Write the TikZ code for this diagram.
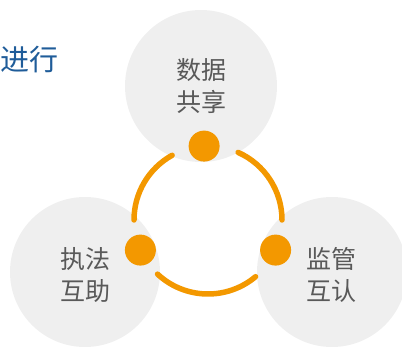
\documentclass[tikz,border=0pt]{standalone}
\usepackage{fontspec}
\newfontfamily\cjk{Noto Sans CJK SC}
\usetikzlibrary{calc}
\definecolor{ringorange}{HTML}{F39800}
\definecolor{disc}{HTML}{EFEFEF}
\definecolor{labelgray}{HTML}{595959}
\definecolor{titleblue}{HTML}{1F5C99}

\begin{document}
\begin{tikzpicture}
		[x=1pt,y=1pt,
		bigdisc/.style={circle,fill=disc,minimum size=152pt,inner sep=0pt},
		dot/.style={circle,fill=ringorange,minimum size=31pt,inner sep=0pt},
		lbl/.style={text=labelgray,font=\cjk\fontsize{25}{32}\selectfont,align=center},
		ring/.style={draw=ringorange,line width=5.5pt,line cap=round}]
		\useasboundingbox (0,0) rectangle (402,-347);
		\node[anchor=west,inner sep=0pt,text=titleblue,font=\cjk\fontsize{29}{32}\selectfont] (title) at (0.5,-60) {进行};
		
		\node[bigdisc] (share) at (201,-86) {};
		\node[bigdisc,minimum size=150pt] (law) at (85,-272) {};
		\node[bigdisc,minimum size=150pt] (watch) at (332,-272) {};
		\node[lbl] (tshare) at (share) {数据\\共享};
		\node[lbl] (tlaw) at (85,-275) {执法\\互助};
		\node[lbl] (twatch) at (331,-275) {监管\\互认};
		
		\coordinate (c) at (208,-220);
		\node[dot] (d1) at ($(c)+(93:74)$) {};
		\node[dot] (d2) at ($(c)+(204:74)$) {};
		\node[dot] (d3) at ($(c)+(336:74)$) {};
		
		\foreach \a/\b in {119/180,227/310,0/66}
		\draw[ring] ($(c)+(\a:74)$) arc[start angle=\a,end angle=\b,radius=74];
		\end{tikzpicture}
\end{document}
